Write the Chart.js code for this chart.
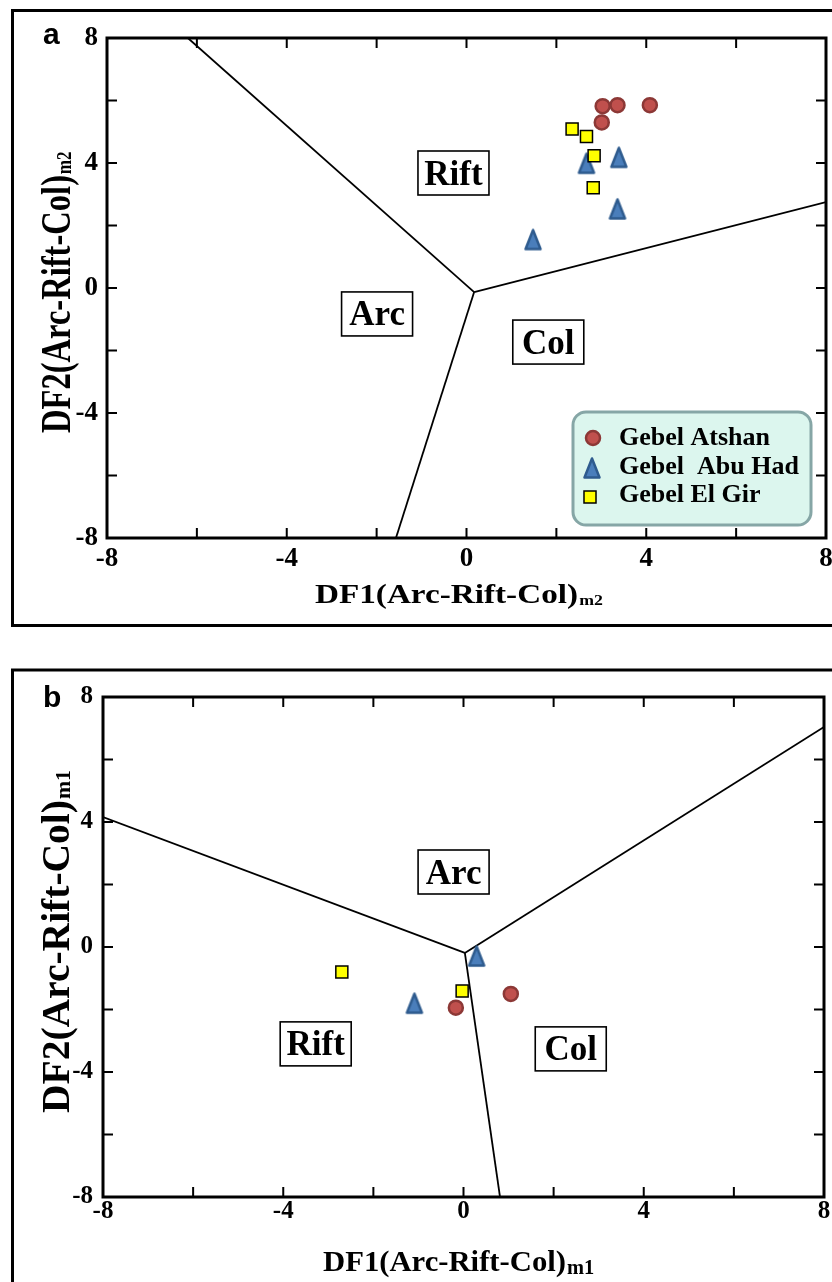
<!DOCTYPE html>
<html><head><meta charset="utf-8">
<script src="https://cdn.jsdelivr.net/npm/chart.js@4.4.1/dist/chart.umd.min.js"></script>
<style>
html,body{margin:0;padding:0;background:#fff;overflow:hidden;width:832px;height:1282px;}
canvas{position:absolute;left:0;}
#ca{top:0;}
#cb{top:640px;}
</style></head><body>
<canvas id="ca" width="880" height="640"></canvas>
<canvas id="cb" width="880" height="642"></canvas>
<script>
// ---------- data ----------
const seriesNames = ['Gebel Atshan', 'Gebel  Abu Had', 'Gebel El Gir'];
const tickValues = [-8, -4, 0, 4, 8];
const axisMin = -8, axisMax = 8, tickStep = 2;

// panel a (m2)
const atshanA = [{x:3.03,y:5.82},{x:3.36,y:5.85},{x:4.08,y:5.85},{x:3.01,y:5.30}];
const abuHadA = [{x:2.67,y:3.99},{x:3.39,y:4.18},{x:3.36,y:2.53},{x:1.48,y:1.55}];
const elGirA  = [{x:2.35,y:5.09},{x:2.67,y:4.85},{x:2.84,y:4.23},{x:2.82,y:3.21}];
const boundaryA = [
  [{x:-6.2,y:8},{x:0.17,y:-0.13}],
  [{x:0.17,y:-0.13},{x:8,y:2.75}],
  [{x:0.17,y:-0.13},{x:-1.57,y:-8}]
];
const fieldsA = [{text:'Rift',x:-0.29,y:3.68},{text:'Arc',x:-1.99,y:-0.83},{text:'Col',x:1.82,y:-1.73}];

// panel b (m1)
const atshanB = [{x:-0.17,y:-1.94},{x:1.05,y:-1.50}];
const abuHadB = [{x:0.29,y:-0.29},{x:-1.09,y:-1.80}];
const elGirB  = [{x:-2.70,y:-0.80},{x:-0.03,y:-1.41}];
const boundaryB = [
  [{x:-8,y:4.16},{x:0.03,y:-0.19}],
  [{x:0.03,y:-0.19},{x:8,y:7.04}],
  [{x:0.03,y:-0.19},{x:0.81,y:-8}]
];
const fieldsB = [{text:'Arc',x:-0.22,y:2.40},{text:'Rift',x:-3.28,y:-3.10},{text:'Col',x:2.38,y:-3.26}];

// ---------- styles ----------
const SERIF = '"Liberation Serif", "Times New Roman", Times, serif';
const SANS = '"Liberation Sans", Arial, Helvetica, sans-serif';

function makeTriangle() {
  const c = document.createElement('canvas'); c.width = 20; c.height = 24;
  const g = c.getContext('2d');
  g.beginPath(); g.moveTo(10, 2.5); g.lineTo(17.5, 21.5); g.lineTo(2.5, 21.5); g.closePath();
  g.fillStyle = '#4a7ebb'; g.fill();
  g.lineJoin = 'round'; g.lineWidth = 2.5; g.strokeStyle = '#2e5b8e'; g.stroke();
  return c;
}
const triImg = makeTriangle();

const markerStyles = [
  {pointStyle:'circle', pointRadius:7, backgroundColor:'#c0504d', borderColor:'#8c3836', borderWidth:2.5},
  {pointStyle:triImg, pointRadius:10, backgroundColor:'#4a7ebb', borderColor:'#2e5b8e', borderWidth:0},
  {pointStyle:'rect', pointRadius:8.5, backgroundColor:'#ffff00', borderColor:'#000000', borderWidth:1.5}
];

function drawMarker(ctx, st, x, y) {
  ctx.save();
  if (st.pointStyle instanceof HTMLCanvasElement) {
    ctx.drawImage(st.pointStyle, x - st.pointStyle.width/2, y - st.pointStyle.height/2);
  } else {
    ctx.fillStyle = st.backgroundColor; ctx.strokeStyle = st.borderColor; ctx.lineWidth = st.borderWidth;
    ctx.beginPath();
    if (st.pointStyle === 'circle') ctx.arc(x, y, st.pointRadius, 0, Math.PI*2);
    else { const s = st.pointRadius*Math.SQRT1_2; ctx.rect(x - s, y - s, 2*s, 2*s); }
    ctx.fill(); ctx.stroke();
  }
  ctx.restore();
}

function drawTitle(ctx, t) {
  ctx.save();
  ctx.translate(t.x, t.y);
  if (t.rotate) ctx.rotate(-Math.PI/2);
  ctx.font = 'bold ' + t.size + 'px ' + SERIF;
  const w = ctx.measureText(t.main).width;
  ctx.scale(t.len / w, 1);
  ctx.fillStyle = '#000'; ctx.textAlign = 'left'; ctx.textBaseline = 'alphabetic';
  ctx.fillText(t.main, 0, 0);
  ctx.font = 'bold ' + t.subSize + 'px ' + SERIF;
  ctx.fillText(t.sub, w + 1, t.subDy);
  ctx.restore();
}

const decor = {
  id: 'decor',
  beforeDraw(chart, args, o) {
    const ctx = chart.ctx;
    ctx.save();
    ctx.fillStyle = '#fff'; ctx.fillRect(0, 0, chart.width, chart.height);
    ctx.strokeStyle = '#000'; ctx.lineWidth = 3;
    ctx.strokeRect(o.frame[0], o.frame[1], o.frame[2], o.frame[3]);
    ctx.font = 'bold 30px ' + SANS; ctx.fillStyle = '#000';
    ctx.textAlign = 'left'; ctx.textBaseline = 'alphabetic';
    ctx.fillText(o.panel, o.panelPos[0], o.panelPos[1]);
    ctx.restore();
  },
  afterDatasetsDraw(chart, args, o) {
    const ctx = chart.ctx, a = chart.chartArea;
    const xs = chart.scales.x, ys = chart.scales.y;
    ctx.save();
    // field labels
    ctx.font = 'bold 35px ' + SERIF; ctx.textAlign = 'center'; ctx.textBaseline = 'alphabetic';
    o.fields.forEach(f => {
      const px = xs.getPixelForValue(f.x), py = ys.getPixelForValue(f.y);
      ctx.fillStyle = '#fff'; ctx.fillRect(px - 35.5, py - 22, 71, 44);
      ctx.strokeStyle = '#000'; ctx.lineWidth = 1.6; ctx.strokeRect(px - 35.5, py - 22, 71, 44);
      ctx.fillStyle = '#000'; ctx.fillText(f.text, px, py + 11.5);
    });
    // plot frame
    ctx.strokeStyle = '#000'; ctx.lineWidth = 3;
    ctx.strokeRect(a.left, a.top, a.right - a.left, a.bottom - a.top);
    // inward ticks
    ctx.lineWidth = 2; ctx.beginPath();
    xs.ticks.forEach(t => {
      const p = xs.getPixelForValue(t.value);
      ctx.moveTo(p, a.bottom); ctx.lineTo(p, a.bottom - 10);
      ctx.moveTo(p, a.top); ctx.lineTo(p, a.top + 10);
    });
    ys.ticks.forEach(t => {
      const p = ys.getPixelForValue(t.value);
      ctx.moveTo(a.left, p); ctx.lineTo(a.left + 10, p);
      ctx.moveTo(a.right, p); ctx.lineTo(a.right - 10, p);
    });
    ctx.stroke();
    ctx.restore();
    // titles
    drawTitle(ctx, o.xTitle);
    drawTitle(ctx, o.yTitle);
    // legend
    if (o.legend) {
      const L = o.legend;
      ctx.save();
      ctx.beginPath();
      if (ctx.roundRect) ctx.roundRect(L.x, L.y, L.w, L.h, 13); else ctx.rect(L.x, L.y, L.w, L.h);
      ctx.fillStyle = '#dcf6ee'; ctx.fill();
      ctx.lineWidth = 3; ctx.strokeStyle = '#86a6a6'; ctx.stroke();
      ctx.font = 'bold 26px ' + SERIF; ctx.fillStyle = '#000';
      ctx.textAlign = 'left'; ctx.textBaseline = 'alphabetic';
      const pts = chart.data.datasets.filter(d => d.isSeries);
      pts.sort((p, q) => p.seriesIndex - q.seriesIndex).forEach((d, i) => {
        drawMarker(ctx, markerStyles[d.seriesIndex], L.mx[i], L.my[i]);
        ctx.fillText(d.label, L.tx, L.ty[i]);
      });
      ctx.restore();
    }
  }
};

function buildDatasets(series, boundary) {
  const ds = [];
  const orders = [1, 2, 0];
  series.forEach((data, i) => {
    ds.push(Object.assign({label: seriesNames[i], data: data, isSeries: true, seriesIndex: i,
      order: orders[i], showLine: false, pointHoverRadius: 7}, markerStyles[i]));
  });
  boundary.forEach(seg => {
    ds.push({label: 'boundary', data: seg, showLine: true, borderColor: '#000', borderWidth: 1.8,
      pointRadius: 0, order: 10, fill: false, tension: 0});
  });
  return ds;
}

function scaleOpts(axis, c) {
  return {
    type: 'linear', min: axisMin, max: axisMax, position: axis === 'x' ? 'bottom' : 'left',
    grid: {display: false, drawTicks: false, tickLength: 0}, border: {display: false},
    ticks: {stepSize: tickStep, autoSkip: false, maxRotation: 0, padding: c.pad, color: '#000',
      font: {family: SERIF, size: c.size, weight: 'bold'},
      callback: v => tickValues.includes(v) ? String(v) : ''},
    afterFit: s => { if (axis === 'x') s.height = c.h; else s.width = c.w; }
  };
}

function makeChart(id, series, boundary, cfg) {
  return new Chart(document.getElementById(id), {
    type: 'scatter',
    data: {datasets: buildDatasets(series, boundary)},
    options: {
      responsive: false, animation: false, devicePixelRatio: 1, events: [],
      layout: {padding: cfg.padding},
      scales: {x: scaleOpts('x', cfg.xs), y: scaleOpts('y', cfg.ys)},
      plugins: {legend: {display: false}, tooltip: {enabled: false}, decor: cfg.decor}
    },
    plugins: [decor]
  });
}

makeChart('ca', [atshanA, abuHadA, elGirA], boundaryA, {
  padding: {left: 0, top: 38, right: 54, bottom: 0},
  xs: {h: 102, pad: 5, size: 27}, ys: {w: 107, pad: 9, size: 27},
  decor: {
    frame: [12.5, 10.5, 900, 615], panel: 'a', panelPos: [43, 44], fields: fieldsA,
    xTitle: {x: 315, y: 603, len: 263, size: 28, main: 'DF1(Arc-Rift-Col)', sub: 'm2', subSize: 15, subDy: 2, rotate: false},
    yTitle: {x: 70, y: 433, len: 258, size: 42, main: 'DF2(Arc-Rift-Col)', sub: 'm2', subSize: 22, subDy: 1, rotate: true},
    legend: {x: 573, y: 412, w: 238, h: 113, mx: [593, 592, 590], my: [438, 468, 497], tx: 619, ty: [445, 474, 502]}
  }
});

makeChart('cb', [atshanB, abuHadB, elGirB], boundaryB, {
  padding: {left: 0, top: 57, right: 56, bottom: 0},
  xs: {h: 85, pad: 0, size: 25}, ys: {w: 103, pad: 10, size: 25},
  decor: {
    frame: [12.5, 30, 900, 700], panel: 'b', panelPos: [43, 67], fields: fieldsB,
    xTitle: {x: 323, y: 630.5, len: 243, size: 30, main: 'DF1(Arc-Rift-Col)', sub: 'm1', subSize: 20, subDy: 3, rotate: false},
    yTitle: {x: 69, y: 473, len: 313, size: 40, main: 'DF2(Arc-Rift-Col)', sub: 'm1', subSize: 22, subDy: 1, rotate: true},
    legend: null
  }
});
</script>
</body></html>
